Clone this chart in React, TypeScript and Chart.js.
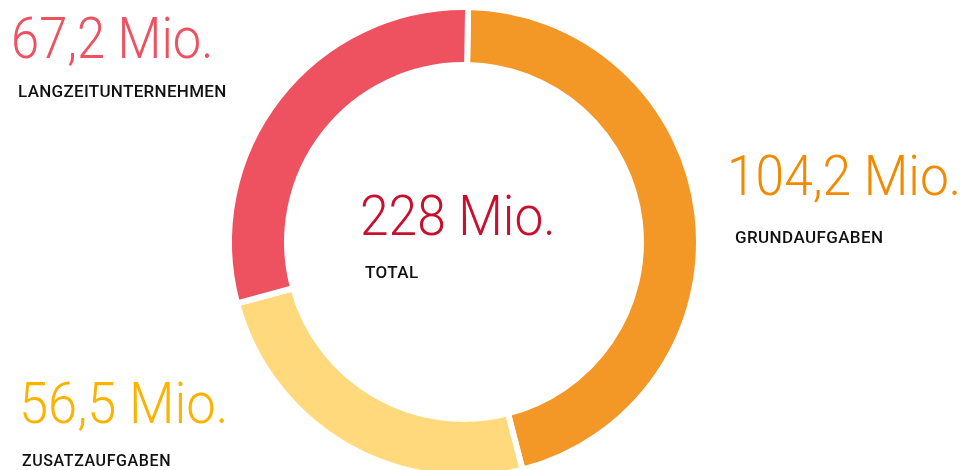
import React, { useEffect, useRef } from "react";
import { Chart, registerables } from "chart.js";

Chart.register(...registerables);

const categories = ["GRUNDAUFGABEN", "ZUSATZAUFGABEN", "LANGZEITUNTERNEHMEN"];
const values = [104.2, 56.5, 67.2];
const totalLabel = "TOTAL";
const segmentColors = ["#f39726", "#ffd97c", "#ee5160"];
const valueTextColors = ["#f18a00", "#fbb300", "#ee5160"];
const totalColor = "#c8102e";

const fmt = (v: number) => v.toFixed(1).replace(".", ",") + " Mio.";
const total = Math.round(values.reduce((a, b) => a + b, 0));

type LabelProps = {
  x: number;
  baseline: number;
  size: number;
  color: string;
  text: string;
  weight?: number;
  scale?: number;
  spacing?: number;
};

function Label({ x, baseline, size, color, text, weight = 300, scale = 1, spacing = 0 }: LabelProps) {
  return (
    <div
      style={{
        position: "absolute",
        left: x,
        top: baseline - 0.8415 * size,
        fontFamily: "Roboto, 'Noto Sans', sans-serif",
        fontSize: size,
        lineHeight: `${size}px`,
        fontWeight: weight,
        color,
        whiteSpace: "nowrap",
        letterSpacing: spacing,
        transform: `scaleX(${scale})`,
        transformOrigin: "left top",
      }}
    >
      {text}
    </div>
  );
}

export default function App() {
  const ref = useRef<HTMLCanvasElement | null>(null);

  useEffect(() => {
    if (!ref.current) return;
    const chart = new Chart(ref.current, {
      type: "doughnut",
      data: {
        labels: categories,
        datasets: [
          {
            data: values,
            backgroundColor: segmentColors,
            borderColor: "#ffffff",
            borderWidth: 6,
            hoverOffset: 0,
          },
        ],
      },
      options: {
        responsive: false,
        animation: false,
        rotation: 1,
        radius: 235,
        cutout: "75.3%",
        layout: { padding: { left: 0, right: 40, top: 14, bottom: 0 } },
        plugins: {
          legend: { display: false },
          tooltip: { enabled: false },
        },
      },
    });
    return () => chart.destroy();
  }, []);

  return (
    <div style={{ position: "absolute", left: 0, top: 0, width: 968, height: 470, overflow: "hidden", background: "#fff" }}>
      <canvas ref={ref} width={968} height={470} style={{ position: "absolute", left: 0, top: 0 }} />
      <Label x={11} baseline={58} size={57} color={valueTextColors[2]} text={fmt(values[2])} scale={0.89} />
      <Label x={18} baseline={97} size={17} color="#111" text={categories[2]} weight={500} spacing={0.3} />
      <Label x={727} baseline={195} size={56} color={valueTextColors[0]} text={fmt(values[0])} scale={0.92} />
      <Label x={735} baseline={243} size={17} color="#111" text={categories[0]} weight={500} spacing={0.4} />
      <Label x={360} baseline={235} size={56} color={totalColor} text={`${total} Mio.`} scale={0.92} />
      <Label x={365} baseline={278} size={17} color="#111" text={totalLabel} weight={500} spacing={0.4} />
      <Label x={19} baseline={423} size={57} color={valueTextColors[1]} text={fmt(values[1])} scale={0.92} />
      <Label x={22} baseline={466} size={16} color="#111" text={categories[1]} weight={500} spacing={0.6} />
    </div>
  );
}
